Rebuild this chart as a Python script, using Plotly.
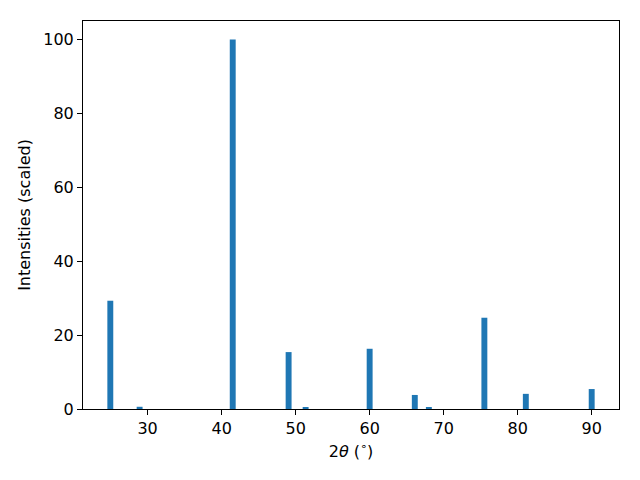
import plotly.graph_objects as go

two_theta = [24.96, 28.92, 41.5, 49.05, 51.35, 60.0, 66.1, 68.0, 75.5, 81.1, 90.0]
intensity = [29.3, 0.6, 100.0, 15.4, 0.35, 16.3, 3.8, 0.55, 24.7, 4.1, 5.4]
x_ticks = [30, 40, 50, 60, 70, 80, 90]
y_ticks = [0, 20, 40, 60, 80, 100]

fig = go.Figure(go.Bar(x=two_theta, y=intensity, width=0.8,
                       marker=dict(color="#1f77b4", line=dict(width=0))))

font = dict(family="DejaVu Sans", size=16, color="black")
axis_common = dict(showline=True, mirror=True, linecolor="black", linewidth=1,
                   ticks="outside", ticklen=5, tickwidth=1, tickcolor="black",
                   showgrid=False, zeroline=False, tickfont=font, automargin=False)

fig.update_layout(
    width=640, height=480,
    margin=dict(l=83, r=21, t=21, b=71),
    paper_bgcolor="white", plot_bgcolor="white",
    font=font, showlegend=False,
    xaxis=dict(range=[21.27, 93.69], tickvals=x_ticks,
               title=dict(text="2<i>θ</i> (<sup>∘</sup>)", font=font, standoff=8),
               **axis_common),
    yaxis=dict(range=[0, 105], tickvals=y_ticks,
               title=dict(text="Intensities (scaled)", font=font, standoff=8),
               **axis_common),
)

fig.write_html("out.html", config={"displayModeBar": False},
               post_script="document.body.style.margin='0';document.body.style.padding='0';")
